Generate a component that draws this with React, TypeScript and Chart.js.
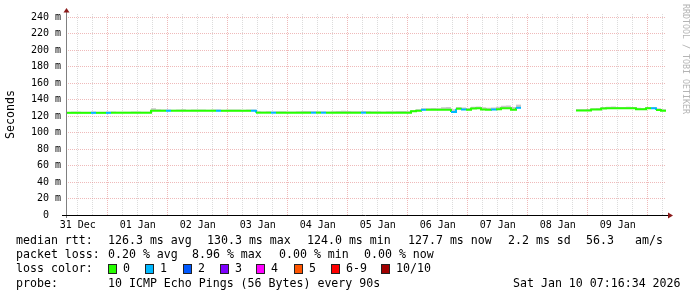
import { useEffect, useRef } from 'react';
import { Chart, registerables } from 'chart.js';

Chart.register(...registerables);

// ---- data -------------------------------------------------------------
// Graph spans 240 h, from 31 Dec 07:16:34 to 10 Jan 07:16:34; one sample every 2 h.
const SPAN_H = 240;
const STEP_H = 2;
const FIRST_NOON_H = 4.724; // 31 Dec 12:00 measured from graph start
const X_LABELS = ['31 Dec', '01 Jan', '02 Jan', '03 Jan', '04 Jan', '05 Jan', '06 Jan', '07 Jan', '08 Jan', '09 Jan'];
const Y_MAX = 244;

// median RTT (ms)
const MEDIAN: (number | null)[] = [
  124.0, 124.0, 124.0, 124.0, 124.0, 124.0, 124.0, 124.0, 124.0, 124.0,
  124.0, 124.0, 124.0, 124.0, 124.0, 124.0, 124.0,
  126.5, 126.5, 126.5, 126.5, 126.5, 126.5, 126.5, 126.5, 126.5, 126.5,
  126.5, 126.5, 126.5, 126.5, 126.5, 126.5, 126.5, 126.5, 126.5, 126.5, 126.5,
  124.2, 124.2, 124.2, 124.2, 124.2, 124.2, 124.2, 124.2, 124.2, 124.2,
  124.2, 124.2, 124.2, 124.2, 124.2, 124.2, 124.2, 124.2, 124.2, 124.2,
  124.2, 124.2, 124.2, 124.2, 124.2, 124.2, 124.2, 124.2, 124.2, 124.2, 124.2,
  126.0, 126.5, 127.7, 127.7, 127.7, 127.7, 127.7, 127.7, 125.0, 129.1,
  128.0, 127.7, 129.3, 129.5, 128.0, 127.7, 128.0, 128.3, 129.5, 129.5,
  127.7, 130.1, 130.1,
  null, null, null, null, null, null, null, null, null, null,
  126.9, 126.9, 126.9, 128.1, 128.1, 129.3, 129.5, 129.5, 129.5, 129.5,
  129.5, 129.5, 128.5, 128.5, 129.5, 129.5, 127.5, 126.7, 126.7,
];

// top of the "smoke" (ping spread) band (ms)
const SMOKE_TOP: (number | null)[] = [
  125.3, 125.5, 125.6, 125.4, 125.3, 125.8, 125.4, 125.3, 125.5, 125.6,
  125.4, 125.3, 125.4, 125.6, 125.5, 125.4, 125.3,
  129.5, 128.5, 128.0, 128.3, 127.9, 128.1, 128.4, 127.9, 128.0, 128.2,
  128.0, 127.8, 128.1, 128.3, 127.9, 128.0, 128.2, 128.1, 127.9, 128.0, 128.2,
  125.8, 125.6, 125.9, 125.7, 125.8, 126.0, 125.7, 125.6, 125.8, 126.2,
  126.4, 126.0, 125.8, 125.9, 125.7, 126.0, 126.3, 126.5, 126.1, 125.8,
  125.9, 126.2, 126.4, 126.0, 125.8, 125.7, 125.9, 126.0, 126.3, 126.1, 125.9,
  127.5, 128.5, 129.5, 129.6, 129.8, 129.5, 130.8, 131.2, 128.5, 131.0,
  130.5, 130.0, 131.5, 131.8, 130.8, 130.2, 130.5, 131.5, 132.5, 132.8,
  131.0, 134.0, 134.0,
  null, null, null, null, null, null, null, null, null, null,
  128.5, 128.4, 128.6, 129.6, 129.8, 131.0, 131.5, 131.8, 131.2, 131.0,
  131.3, 131.1, 130.2, 130.0, 131.2, 131.0, 129.5, 128.3, 128.3,
];

// [sample index, lost pings out of 10]
const LOSS_POINTS: [number, number][] = [
  [5, 1], [8, 1], [20, 1], [30, 1], [37, 1], [41, 1], [49, 1], [51, 1],
  [59, 1], [71, 1], [77, 1], [79, 1], [85, 1], [90, 1], [117, 1],
];

const LOSS_COLORS = ['#26ff00', '#00b8ff', '#0059ff', '#7e00ff', '#ff00ff', '#ff5500', '#ff0000', '#a10000'];
const LOSS_LABELS = ['0', '1', '2', '3', '4', '5', '6-9', '10/10'];

const LEGEND_ROW1: [string, number][] = [
  ['median rtt:', 16], ['126.3 ms avg', 108], ['130.3 ms max', 207], ['124.0 ms min', 307],
  ['127.7 ms now', 408], ['2.2 ms sd', 508], ['56.3', 586], ['am/s', 635],
];
const LEGEND_ROW2: [string, number][] = [
  ['packet loss:', 16], ['0.20 % avg', 108], ['8.96 % max', 192], ['0.00 % min', 279], ['0.00 % now', 364],
];
const LEGEND_ROW4: [string, number][] = [
  ['probe:', 16], ['10 ICMP Echo Pings (56 Bytes) every 90s', 108], ['Sat Jan 10 07:16:34 2026', 513],
];
const LOSS_BOX_X = [108, 145, 183, 220, 256, 294, 331, 381];

// ---- styling -----------------------------------------------------------
const MONO = "'DejaVu Sans Mono', monospace";
const MAJOR_GRID = 'rgba(225,130,130,0.55)';
const MINOR_GRID = 'rgba(185,185,185,0.5)';

const axesPlugin = {
  id: 'rrdAxes',
  afterDraw(chart: any) {
    const { ctx, chartArea } = chart;
    const l = chartArea.left;
    const b = chartArea.bottom;
    const r = chartArea.right;
    ctx.save();
    // y axis
    ctx.strokeStyle = '#808080';
    ctx.lineWidth = 1;
    ctx.beginPath();
    ctx.moveTo(l + 0.5, b + 3);
    ctx.lineTo(l + 0.5, chartArea.top - 3);
    ctx.stroke();
    // x axis
    ctx.strokeStyle = '#000';
    ctx.beginPath();
    ctx.moveTo(l - 4, b + 0.5);
    ctx.lineTo(r + 3, b + 0.5);
    ctx.stroke();
    // arrows
    ctx.fillStyle = '#8b1a1a';
    ctx.beginPath();
    ctx.moveTo(l - 2.5, chartArea.top - 1.5);
    ctx.lineTo(l + 3.5, chartArea.top - 1.5);
    ctx.lineTo(l + 0.5, chartArea.top - 6);
    ctx.closePath();
    ctx.fill();
    ctx.beginPath();
    ctx.moveTo(r + 2, b - 2.5);
    ctx.lineTo(r + 2, b + 3.5);
    ctx.lineTo(r + 7, b + 0.5);
    ctx.closePath();
    ctx.fill();
    ctx.restore();
  },
};

export default function App() {
  const canvasRef = useRef<HTMLCanvasElement | null>(null);

  useEffect(() => {
    const canvas = canvasRef.current;
    if (!canvas) return;
    const lossByIndex: number[] = MEDIAN.map(() => 0);
    LOSS_POINTS.forEach(([i, n]) => { lossByIndex[i] = n; });
    const lossColorIdx = (n: number) => (n <= 5 ? n : n < 10 ? 6 : 7);

    const medianPts = MEDIAN.map((y, i) => ({ x: i * STEP_H, y }));
    const smokePts = SMOKE_TOP.map((y, i) => ({ x: i * STEP_H, y }));

    const xTickValues: number[] = [];
    for (let h = FIRST_NOON_H; h < SPAN_H; h += 6) xTickValues.push(h);
    const yTickValues: number[] = [];
    for (let v = 0; v <= 240; v += 10) yTickValues.push(v);
    yTickValues.push(Y_MAX);

    const chart = new Chart(canvas, {
      type: 'line',
      data: {
        datasets: [
          {
            label: 'smoke',
            data: smokePts as any,
            order: 2,
            stepped: true,
            borderWidth: 0,
            borderColor: 'rgba(0,0,0,0)',
            backgroundColor: 'rgb(200,200,200)',
            pointRadius: 0,
            fill: { target: 1 },
            spanGaps: false,
          },
          {
            label: 'median',
            data: medianPts as any,
            order: 1,
            stepped: true,
            borderWidth: 2,
            borderColor: LOSS_COLORS[0],
            borderCapStyle: 'butt',
            borderJoinStyle: 'miter',
            pointRadius: 0,
            fill: false,
            spanGaps: false,
            segment: {
              borderColor: (c: any) => LOSS_COLORS[lossColorIdx(lossByIndex[c.p0DataIndex] || 0)],
            },
          },
        ],
      },
      options: {
        responsive: false,
        animation: false,
        devicePixelRatio: 1,
        events: [],
        layout: { padding: { left: 0, top: 14, right: 31, bottom: 0 } },
        plugins: { legend: { display: false }, tooltip: { enabled: false }, title: { display: false } },
        scales: {
          x: {
            type: 'linear',
            min: 0,
            max: SPAN_H,
            afterBuildTicks: (s: any) => { s.ticks = xTickValues.map((v) => ({ value: v })); },
            afterFit: (s: any) => { s.height = 82; },
            ticks: {
              autoSkip: false,
              maxRotation: 0,
              padding: 4,
              color: '#000',
              font: { family: MONO, size: 10 },
              callback: (_v: any, i: number) => (i % 4 === 0 ? X_LABELS[i / 4] : ''),
            },
            grid: {
              drawTicks: false,
              lineWidth: 1,
              color: (c: any) => (c.index % 4 === 2 ? MAJOR_GRID : MINOR_GRID),
            },
            border: { display: false, dash: [1, 1] },
          },
          y: {
            type: 'linear',
            min: 0,
            max: Y_MAX,
            afterBuildTicks: (s: any) => { s.ticks = yTickValues.map((v) => ({ value: v })); },
            afterFit: (s: any) => { s.width = 66; },
            ticks: {
              padding: 5,
              color: '#000',
              font: { family: MONO, size: 10 },
              callback: (v: any) => {
                const n = Number(v);
                if (n === 0) return '0  ';
                if (n % 20 === 0 && n <= 240) return `${n} m`;
                return '';
              },
            },
            grid: {
              drawTicks: false,
              lineWidth: 1,
              color: (c: any) => {
                const v = c.tick ? c.tick.value : 0;
                return v % 20 === 0 && v <= 240 ? MAJOR_GRID : MINOR_GRID;
              },
            },
            border: { display: false, dash: [1, 1] },
            title: {
              display: true,
              text: 'Seconds',
              color: '#000',
              font: { family: MONO, size: 11.6, weight: 'normal' },
              padding: { top: 4, bottom: 0 },
            },
          },
        },
      },
      plugins: [axesPlugin],
    });
    return () => chart.destroy();
  }, []);

  const textStyle = {
    position: 'absolute' as const,
    fontFamily: MONO,
    fontSize: '11.6px',
    lineHeight: '14px',
    whiteSpace: 'pre' as const,
    color: '#000',
  };
  const rowTops = [233, 247, 261, 276];

  return (
    <div style={{ position: 'absolute', left: 0, top: 0, width: 697, height: 297, background: '#fff', overflow: 'hidden' }}>
      <canvas ref={canvasRef} width={697} height={297} style={{ display: 'block', width: 697, height: 297 }} />
      {LEGEND_ROW1.map(([t, x]) => (
        <div key={'r1' + t} style={{ ...textStyle, left: x, top: rowTops[0] }}>{t}</div>
      ))}
      {LEGEND_ROW2.map(([t, x]) => (
        <div key={'r2' + t} style={{ ...textStyle, left: x, top: rowTops[1] }}>{t}</div>
      ))}
      <div style={{ ...textStyle, left: 16, top: rowTops[2] }}>loss color:</div>
      {LOSS_LABELS.map((t, i) => (
        <div key={'lc' + t}>
          <div
            style={{
              position: 'absolute',
              left: LOSS_BOX_X[i],
              top: rowTops[2] + 3,
              width: 7,
              height: 8,
              background: LOSS_COLORS[i],
              border: '1px solid #222',
            }}
          />
          <div style={{ ...textStyle, left: LOSS_BOX_X[i] + 15, top: rowTops[2] }}>{t}</div>
        </div>
      ))}
      {LEGEND_ROW4.map(([t, x]) => (
        <div key={'r4' + t} style={{ ...textStyle, left: x, top: rowTops[3] }}>{t}</div>
      ))}
      <div
        style={{
          position: 'absolute',
          left: 681,
          top: 4,
          fontFamily: MONO,
          fontSize: '8.3px',
          lineHeight: '10px',
          color: '#b4b4b4',
          writingMode: 'vertical-rl',
          whiteSpace: 'pre',
        }}
      >
        RRDTOOL / TOBI OETIKER
      </div>
    </div>
  );
}
